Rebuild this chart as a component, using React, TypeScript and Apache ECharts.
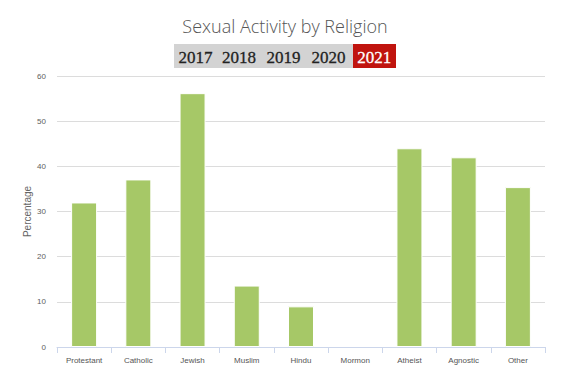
import React, { useEffect, useRef } from "react";
import * as echarts from "echarts";

const categories = ["Protestant", "Catholic", "Jewish", "Muslim", "Hindu", "Mormon", "Atheist", "Agnostic", "Other"];
const values: (number | null)[] = [32.0, 37.1, 56.2, 13.6, 9.0, null, 44.0, 42.0, 35.4];
const yTicks = { min: 0, max: 60, interval: 10 };
const titleText = "Sexual Activity by Religion";
const years = ["2017", "2018", "2019", "2020", "2021"];
const activeYear = "2021";
const yAxisName = "Percentage";

export default function App() {
  const ref = useRef<HTMLDivElement>(null);
  useEffect(() => {
    document.body.style.margin = "0";
    if (!ref.current) return;
    const chart = echarts.init(ref.current, null, { renderer: "svg" });

    const yearCenters = [195.5, 239, 283.5, 328.5, 374.3];
    const yearGraphics: any[] = [
      { type: "rect", shape: { x: 174, y: 44, width: 179, height: 24 }, style: { fill: "#d3d3d3" } },
      { type: "rect", shape: { x: 353, y: 44, width: 43, height: 24 }, style: { fill: "#c0140e" } },
    ];
    years.forEach((yr, i) => {
      const active = yr === activeYear;
      yearGraphics.push({
        type: "text",
        x: yearCenters[i],
        y: 57,
        style: {
          text: yr,
          fill: active ? "#ffffff" : "#222222",
          stroke: active ? "#ffffff" : "#222222",
          lineWidth: 0.3,
          fontFamily: "'Liberation Serif', 'DejaVu Serif', serif",
          fontSize: 17,
          fontWeight: "normal",
          align: "center",
          verticalAlign: "middle",
        },
      });
    });

    chart.setOption({
      animation: false,
      backgroundColor: "#ffffff",
      graphic: [
        {
          type: "text",
          x: 285,
          y: 26,
          style: {
            text: titleText,
            fill: "#555555",
            fontFamily: "'Open Sans', sans-serif",
            fontSize: 18,
            fontWeight: 300,
            align: "center",
            verticalAlign: "middle",
          },
        },
        ...yearGraphics,
      ],
      grid: { left: 57, right: 38, top: 76, bottom: 38, containLabel: false },
      xAxis: {
        type: "category",
        data: categories,
        axisLine: { lineStyle: { color: "#ccd6eb" } },
        axisTick: { show: true, length: 6, lineStyle: { color: "#ccd6eb" }, alignWithLabel: false },
        axisLabel: { color: "#555555", fontSize: 8, margin: 9, fontFamily: "'Liberation Sans', Arial, sans-serif" },
      },
      yAxis: {
        type: "value",
        min: yTicks.min,
        max: yTicks.max,
        interval: yTicks.interval,
        name: yAxisName,
        nameLocation: "middle",
        nameRotate: 90,
        nameGap: 25,
        nameMoveOverlap: false,
        nameTextStyle: { color: "#666666", fontSize: 10, fontFamily: "'Liberation Sans', Arial, sans-serif" },
        axisLine: { show: false },
        axisTick: { show: false },
        axisLabel: { color: "#606060", fontSize: 8, margin: 11, fontFamily: "'Liberation Sans', Arial, sans-serif" },
        splitLine: { lineStyle: { color: "#dcdcdc", width: 1 } },
      },
      series: [
        {
          type: "bar",
          data: values,
          barWidth: 26,
          itemStyle: { color: "#a6c867", borderColor: "#ffffff", borderWidth: 1 },
        },
      ],
    });
    return () => chart.dispose();
  }, []);
  return <div ref={ref} style={{ width: 583, height: 385 }} />;
}
